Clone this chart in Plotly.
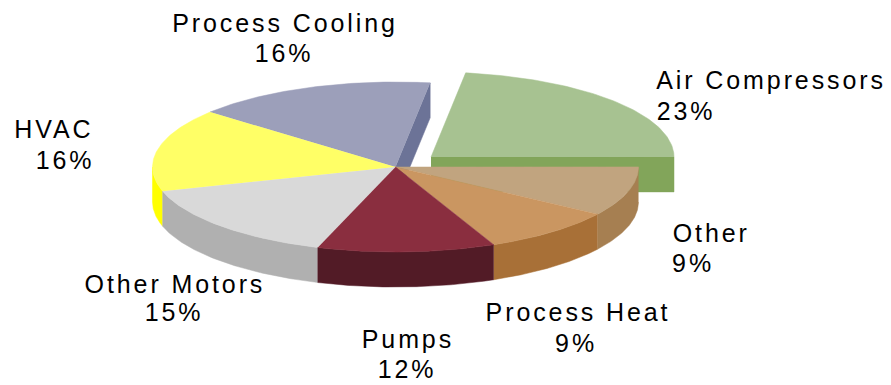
import numpy as np
import plotly.graph_objects as go

categories = ["Air Compressors", "Other", "Process Heat", "Pumps", "Other Motors", "HVAC", "Process Cooling"]
values = [22.7, 9.4, 9.0, 11.8, 15.2, 15.8, 16.1]
exploded = [True, False, False, False, False, False, False]
top_colors = ["#A7C291", "#C1A47F", "#CA9661", "#8A2E3F", "#D9D9D9", "#FFFF66", "#9C9FBA"]
side_colors = ["#82A55A", "#A67F51", "#A87037", "#521B26", "#B0B0B0", "#FFFF00", "#6C7397"]
name_x = [771, 711, 578, 408, 175, 54, 285]
name_y = [80, 233, 312, 339, 284, 129, 23]
pct_x = [686, 693, 576, 407, 174, 65, 284]
pct_y = [111, 263, 343, 369, 312, 160, 53]

W, H = 891, 385
CX, CY, A, B, DEPTH = 395.5, 167, 243, 85, 35
START = 8.2
DX, DY = 35.5, -10

fracs = np.array(values) / sum(values)
ends = START + np.cumsum(fracs) * 360
starts = ends - fracs * 360


def arc(t1, t2, cx, cy):
    t = np.radians(np.linspace(t1, t2, 80))
    return cx + A * np.sin(t), cy - B * np.cos(t)


fig = go.Figure()


def poly(xs, ys, color):
    fig.add_trace(go.Scatter(x=list(xs), y=list(ys), mode="lines", fill="toself",
                             fillcolor=color, line=dict(color=color, width=0.5),
                             hoverinfo="skip", showlegend=False))


def wedge(i):
    t1, t2 = starts[i], ends[i]
    cx = CX + (DX if exploded[i] else 0)
    cy = CY + (DY if exploded[i] else 0)
    ex = cx + A * np.sin(np.radians(t2))
    ey = cy - B * np.cos(np.radians(t2))
    # radial wall on the trailing edge: shown on the pulled-out wedge and on
    # the wedge whose neighbour has been pulled away
    if exploded[i] or exploded[(i + 1) % len(values)]:
        poly([cx, ex, ex, cx], [cy, ey, ey + DEPTH, cy + DEPTH], side_colors[i])
    # outer wall: only the part of the rim in the front half
    lo, hi = max(t1, 90), min(t2, 270)
    if hi > lo:
        ax, ay = arc(lo, hi, cx, cy)
        poly(np.r_[ax, ax[::-1]], np.r_[ay, ay[::-1] + DEPTH], side_colors[i])
    ax, ay = arc(t1, t2, cx, cy)
    poly(np.r_[cx, ax], np.r_[cy, ay], top_colors[i])


# back-to-front paint order
for i in [0, 6, 5, 1, 4, 2, 3]:
    wedge(i)

label_font = dict(family="Liberation Sans", size=25, color="#000000")
for name, v, nx, ny, px, py in zip(categories, values, name_x, name_y, pct_x, pct_y):
    fig.add_annotation(x=nx, y=ny, text=name, showarrow=False, font=label_font,
                       xanchor="center", yanchor="middle")
    fig.add_annotation(x=px, y=py, text=f"{round(v)}%", showarrow=False, font=label_font,
                       xanchor="center", yanchor="middle")

fig.update_layout(width=W, height=H, margin=dict(l=0, r=0, t=0, b=0),
                  paper_bgcolor="white", plot_bgcolor="white", showlegend=False,
                  xaxis=dict(range=[0, W], visible=False, fixedrange=True),
                  yaxis=dict(range=[H, 0], visible=False, fixedrange=True))
post = """
document.body.style.margin = '0';
document.querySelectorAll('.annotation-text').forEach(function (t) {
  t.style.letterSpacing = '2.9px';
});
"""
fig.write_html("out.html", config={"displayModeBar": False}, post_script=post)
